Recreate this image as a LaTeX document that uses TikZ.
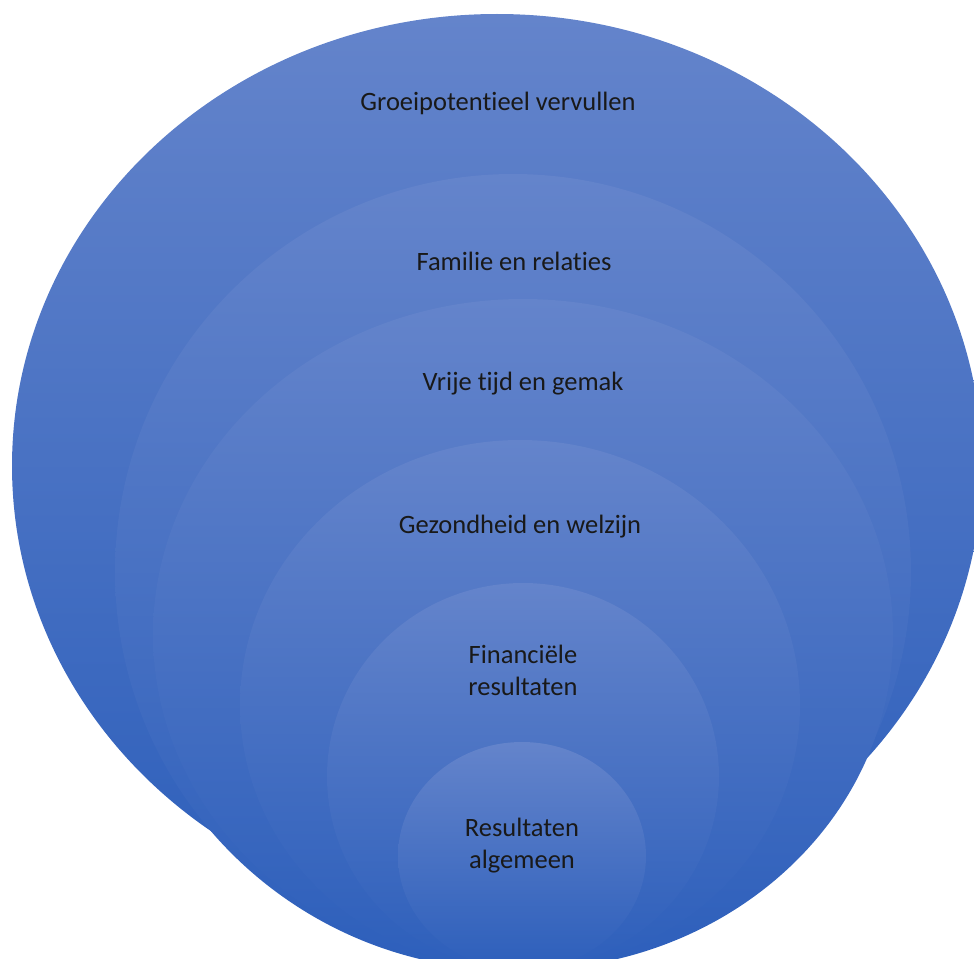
\documentclass[tikz,border=0pt]{standalone}
\usepackage{fontspec}
\setmainfont{Carlito}[Ligatures={NoCommon}]
\definecolor{ringtop}{RGB}{100,132,203}
\definecolor{ringbottom}{RGB}{45,95,187}
\begin{document}
\begin{tikzpicture}[x=1pt, y=-1pt,
				ring/.style = {top color=ringtop, bottom color=ringbottom},
				ringtext/.style = {font=\fontsize{26.5}{32}\selectfont, align=center, inner sep=0pt, text=black!90}
			]
			\useasboundingbox (0,0) rectangle (974,958);
			\clip (0,0) rectangle (974,958);
			% outer ring is a bit wider than high
			\path[ring] (497,466) ellipse [x radius=485pt, y radius=452pt];
			% inner rings all end near the same bottom point
			\foreach \cx/\cy/\rx/\ry in {513/572/398/398, 523/634.5/370/335.5, 520/705/280/265,
				523/776.5/196/193.5, 522/856/124/114}
				\path[ring] (\cx,\cy) ellipse [x radius=\rx pt, y radius=\ry pt];
			\node[ringtext] (growth) at (498,103) {Groeipotentieel vervullen};
			\node[ringtext] (family) at (514,261) {Familie en relaties};
			\node[ringtext] (leisure) at (523,384) {Vrije tijd en gemak};
			\node[ringtext] (health) at (520,527) {Gezondheid en welzijn};
			\node[ringtext] (finance) at (523,670) {Financiële\\resultaten};
			\node[ringtext] (results) at (522,846) {Resultaten\\algemeen};
		\end{tikzpicture}
\end{document}
